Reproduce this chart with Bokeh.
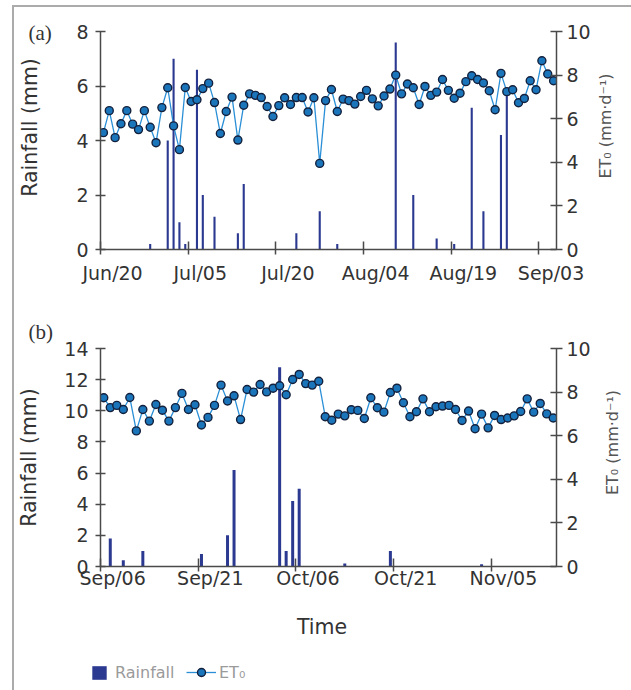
import math
import numpy as np
from bokeh.plotting import figure
from bokeh.models import (Range1d, LinearAxis, FixedTicker, Legend, LegendItem,
                          ColumnDataSource, Label)
from bokeh.layouts import column
from bokeh.embed import file_html
from bokeh.resources import INLINE

# ---------------- data ----------------
ticks_a = ["Jun/20", "Jul/05", "Jul/20", "Aug/04", "Aug/19", "Sep/03"]
ticks_b = ["Sep/06", "Sep/21", "Oct/06", "Oct/21", "Nov/05"]

# daily ET0 (mm/d), panel (a): Jun 20 - Sep 05
et0_a = [5.36, 6.37, 5.13, 5.77, 6.37, 5.75, 5.50, 6.37, 5.61, 4.90,
         6.51, 7.42, 5.67, 4.58, 7.43, 6.79, 6.87, 7.38, 7.63, 6.74,
         5.32, 6.33, 6.99, 5.02, 6.62, 7.14, 7.07, 6.97, 6.56, 6.10,
         6.60, 6.96, 6.65, 6.97, 6.97, 6.31, 6.96, 3.95, 6.83, 7.34,
         6.33, 6.90, 6.83, 6.67, 7.02, 7.30, 6.91, 6.59, 7.04, 7.36,
         8.00, 7.14, 7.59, 7.42, 6.65, 7.48, 7.07, 7.22, 7.80, 7.30,
         6.94, 7.17, 7.70, 7.97, 7.80, 7.64, 7.28, 6.41, 8.08, 7.24,
         7.33, 6.73, 6.93, 7.74, 7.33, 8.66, 8.05, 7.74]
# daily rainfall (mm), panel (a)
rain_a = [0, 0, 0, 0, 0, 0, 0, 0, 0.2, 0,
          0, 4.0, 7.0, 1.0, 0.2, 0, 6.6, 2.0, 0, 1.2,
          0, 0, 0, 0.6, 2.4, 0, 0, 0, 0, 0,
          0, 0, 0, 0.6, 0, 0, 0, 1.4, 0, 0,
          0.2, 0, 0, 0, 0, 0, 0, 0, 0, 0,
          7.6, 0, 0, 2.0, 0, 0, 0, 0.4, 0, 0,
          0.2, 0, 0, 5.2, 0, 1.4, 0, 0, 4.2, 5.9,
          0, 0, 0, 0, 0, 0, 0, 0]

# daily ET0 (mm/d), panel (b): Sep 06 - Nov 14
et0_b = [7.74, 7.29, 7.39, 7.20, 7.75, 6.22, 7.20, 6.67, 7.43, 7.17,
         6.67, 7.29, 7.94, 7.20, 7.42, 6.49, 6.84, 7.39, 8.32, 7.59,
         7.83, 6.74, 8.12, 8.00, 8.35, 8.01, 8.18, 8.29, 7.88, 8.58,
         8.81, 8.39, 8.32, 8.50, 6.87, 6.71, 6.99, 6.91, 7.19, 7.16,
         6.79, 7.74, 7.28, 7.08, 7.98, 8.18, 7.51, 6.87, 7.10, 7.69,
         7.10, 7.33, 7.36, 7.39, 7.20, 6.70, 7.13, 6.32, 6.99, 6.36,
         6.93, 6.74, 6.81, 6.91, 7.11, 7.69, 7.08, 7.48, 7.00, 6.81]
# daily rainfall (mm), panel (b)
rain_b = [0, 1.8, 0, 0.4, 0, 0, 1.0, 0, 0, 0,
          0, 0, 0, 0, 0, 0.8, 0, 0, 0, 2.0,
          6.2, 0, 0, 0, 0, 0, 0, 12.8, 1.0, 4.2,
          5.0, 0, 0, 0, 0, 0, 0, 0.2, 0, 0,
          0, 0, 0, 0, 1.0, 0, 0, 0, 0, 0,
          0, 0, 0, 0, 0, 0, 0, 0, 0.15, 0,
          0, 0, 0, 0, 0, 0, 0, 0, 0, 0]

# ---------------- style ----------------
BAR = "#2b3990"
DOT = "#1b75bb"
DOT_EDGE = "#14213d"
LINE = "#2a8fd6"
AX = "#4a4a4a"
TXT = "#333333"
SANS = "DejaVu Sans"
SERIF = "Liberation Serif"
NB = "\u00a0"
ET_LABEL = "ET\u2080 (mm\u00b7d\u207b\u00b9)"


def make_panel(et0, rain, tick_labels, ymax, ystep, width, height, borders,
               bar_w, x_standoff, ylab, ylab_standoff, tag, tag_standoff, et_pos):
    n = len(et0)
    src = ColumnDataSource(dict(x=np.arange(n) + 0.5,  # centre of each day
                                rain=rain, et0=et0))
    p = figure(width=width, height=height, output_backend="svg", toolbar_location=None,
               x_range=Range1d(0, n), y_range=Range1d(0, ymax),
               min_border_left=borders[0], min_border_right=borders[1],
               min_border_top=borders[2], min_border_bottom=borders[3],
               background_fill_color="white", border_fill_color="white")
    p.outline_line_color = None
    p.grid.visible = False
    p.extra_y_ranges = {"et": Range1d(0, 10)}

    p.title.text = tag
    p.title.align = "left"
    p.title.offset = -72
    p.title.standoff = tag_standoff
    p.title.text_font = SERIF
    p.title.text_font_size = "21px"
    p.title.text_font_style = "normal"
    p.title.text_color = TXT

    tick_pos = [15 * i for i in range(len(tick_labels))]
    xa = p.xaxis[0]
    xa.ticker = FixedTicker(ticks=tick_pos)
    xa.major_label_overrides = {tp: NB * 4 + lab for tp, lab in zip(tick_pos, tick_labels)}
    xa.major_tick_in = 8
    xa.major_tick_out = 5
    xa.minor_tick_line_color = None
    xa.major_label_standoff = x_standoff

    ya = p.yaxis[0]
    ya.ticker = FixedTicker(ticks=list(range(0, ymax + 1, ystep)))
    ya.major_tick_in = 5
    ya.major_tick_out = 5
    ya.minor_tick_line_color = None
    ya.major_label_standoff = 7
    ya.axis_label = ylab
    ya.axis_label_standoff = ylab_standoff

    ra = LinearAxis(y_range_name="et", ticker=FixedTicker(ticks=[0, 2, 4, 6, 8, 10]))
    ra.major_tick_in = 6
    ra.major_tick_out = 6
    ra.minor_tick_line_color = None
    ra.major_label_standoff = 4
    p.add_layout(ra, "right")

    for ax in (xa, ya, ra):
        ax.axis_line_color = AX
        ax.axis_line_width = 1.5
        ax.major_tick_line_color = AX
        ax.major_tick_line_width = 1.5
        ax.major_label_text_font = SANS
        ax.major_label_text_font_size = "19px"
        ax.major_label_text_color = TXT
        ax.axis_label_text_font_style = "normal"
    for ax in (xa, ya):
        ax.axis_label_text_font = SANS
        ax.axis_label_text_font_size = "20.5px"
        ax.axis_label_text_color = TXT

    # ET0 axis title, reading bottom-to-top beside the right axis
    p.add_layout(Label(x=et_pos[0], y=et_pos[1], x_units="screen", y_units="screen",
                       text=ET_LABEL, angle=math.pi / 2, text_align="center",
                       text_baseline="middle", text_font=SANS, text_font_size="16px",
                       text_color="#555555"), "right")

    p.vbar(x="x", top="rain", width=bar_w, source=src, fill_color=BAR, line_color=None)
    p.line("x", "et0", source=src, y_range_name="et", line_color=LINE, line_width=1.3)
    p.scatter("x", "et0", source=src, y_range_name="et", size=8, fill_color=DOT,
              line_color=DOT_EDGE, line_width=1.4)
    return p, src


p1, _ = make_panel(et0_a, rain_a, ticks_a, 8, 2, 617, 290, (86, 75, 24, 48),
                   0.36, 7, NB * 4 + "Rainfall (mm)", 31, "(a)", -26, (12, 123.5))
p2, src_b = make_panel(et0_b, rain_b, ticks_b, 14, 2, 617, 353, (85, 69, 51, 84),
                       0.46, -5, "Rainfall (mm)", 20, "(b)", 9, (19, 124))
p2.xaxis[0].axis_label = "Time" + NB * 2
p2.xaxis[0].axis_label_standoff = 23

# legend strip: the library's legend, drawing the styles of panel (b)'s series
# (its ranges keep the series themselves out of view)
p3 = figure(width=617, height=40, output_backend="svg", toolbar_location=None,
            x_range=Range1d(-20, -19), y_range=Range1d(-20, -19),
            x_axis_location=None, y_axis_location=None,
            min_border_left=0, min_border_right=0, min_border_top=0, min_border_bottom=0,
            background_fill_color="white", border_fill_color="white")
p3.grid.visible = False
p3.outline_line_color = None
leg_dx = 0
if "frame_align" in p3.properties():
    p3.frame_align = False
else:
    leg_dx = -86
r_bar = p3.vbar(x="x", top="rain", width=0.46, source=src_b, fill_color=BAR, line_color=None)
r_line = p3.line("x", "et0", source=src_b, line_color=LINE, line_width=1.3)
r_dot = p3.scatter("x", "et0", source=src_b, fill_color=DOT, line_color=DOT_EDGE, line_width=1.4)

common = dict(orientation="horizontal", padding=0, margin=0, spacing=0,
              border_line_color=None, background_fill_alpha=0,
              label_text_font=SANS, label_text_font_size="16px",
              label_text_color="#9a9a9a")
leg1 = Legend(items=[LegendItem(label="Rainfall", renderers=[r_bar])],
              location=(76 + leg_dx, 8.5), glyph_width=18, glyph_height=17, label_standoff=7, **common)
leg2 = Legend(items=[LegendItem(label="ET\u2080", renderers=[r_line, r_dot])],
              location=(172 + leg_dx, 8), glyph_width=30, glyph_height=20, label_standoff=3, **common)
p3.add_layout(leg1)
p3.add_layout(leg2)

layout = column(p1, p2, p3, margin=(5, 0, 0, 12),
                styles={"border-left": "2px solid #ababab", "border-top": "2px solid #ababab"})

open("out.html", "w").write(file_html(layout, INLINE))
